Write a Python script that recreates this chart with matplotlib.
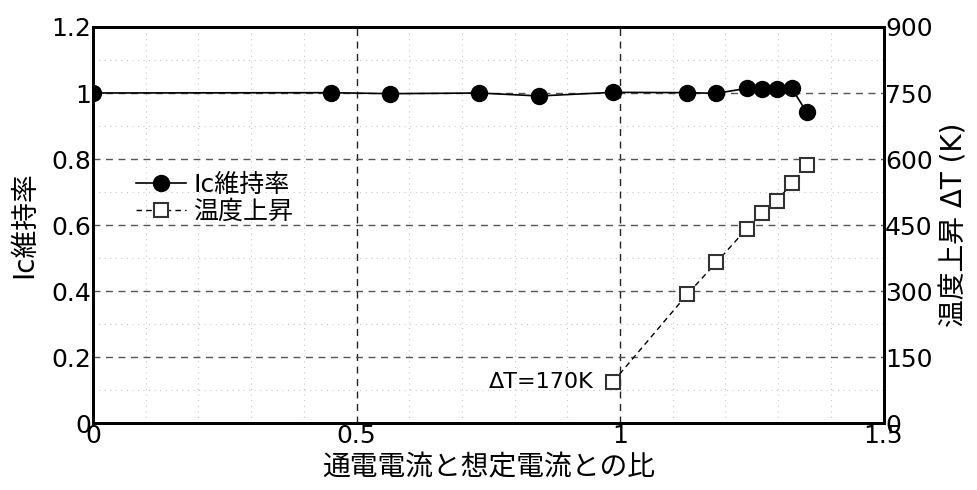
import matplotlib.pyplot as plt
import numpy as np
from matplotlib.ticker import MultipleLocator

plt.rcParams['font.family'] = ['DejaVu Sans', 'Noto Sans CJK JP']

# 通電電流と想定電流との比
ratio_ic = [0.0, 0.451, 0.564, 0.733, 0.846, 0.987, 1.128, 1.183, 1.240, 1.269, 1.298, 1.326, 1.354]
ic_keep = [1.0, 1.001, 0.998, 1.0, 0.991, 1.002, 1.001, 0.999, 1.014, 1.013, 1.013, 1.014, 0.942]

ratio_dt = [0.987, 1.128, 1.183, 1.240, 1.269, 1.298, 1.326, 1.354]
delta_t = [94, 293, 365, 441, 478, 505, 545, 586]

fig = plt.figure(figsize=(9.78, 4.9), dpi=100)
ax = fig.add_axes([0.0951, 0.1367, 0.8083, 0.8082])
ax2 = ax.twinx()

ax.set_xlim(0, 1.5)
ax.set_ylim(0, 1.2)
ax2.set_ylim(0, 900)

ax.xaxis.set_major_locator(MultipleLocator(0.5))
ax.xaxis.set_minor_locator(MultipleLocator(0.1))
ax.yaxis.set_major_locator(MultipleLocator(0.2))
ax.yaxis.set_minor_locator(MultipleLocator(0.1))
ax2.yaxis.set_major_locator(MultipleLocator(150))

ax.set_axisbelow(True)
ax.grid(which='minor', color='#c8c8c8', linestyle=(0, (1, 4)), linewidth=0.8)
ax.grid(which='major', axis='x', color='#222222', linestyle=(0, (5, 4)), linewidth=1.0)
ax.grid(which='major', axis='y', color='#555555', linestyle=(0, (5, 4)), linewidth=1.0)

ax.set_xticks([0, 0.5, 1, 1.5])
ax.set_xticklabels(['0', '0.5', '1', '1.5'])
ax.set_yticks([0, 0.2, 0.4, 0.6, 0.8, 1.0, 1.2])
ax.set_yticklabels(['0', '0.2', '0.4', '0.6', '0.8', '1', '1.2'])

for a in (ax, ax2):
    a.tick_params(which='both', length=0, labelsize=18, pad=1)
    for s in a.spines.values():
        s.set_linewidth(2)

l2, = ax2.plot(ratio_dt, delta_t, color='black', linestyle=(0, (4, 3)), linewidth=1.0,
               marker='s', markersize=10.5, markerfacecolor='white', markeredgecolor='#333333',
               markeredgewidth=1.5, label='温度上昇', zorder=3)
l1, = ax2.plot(ratio_ic, np.array(ic_keep) * 750, color='black', linewidth=1.2,
               marker='o', markersize=11.5, markerfacecolor='black', label='Ic維持率', zorder=4)

ax2.text(0.949, delta_t[0], 'ΔT=170K', fontsize=16, ha='right', va='center')

ax.set_xlabel('通電電流と想定電流との比', fontsize=20, labelpad=4)
ax.set_ylabel('Ic維持率', fontsize=20, labelpad=10)
ax2.set_ylabel('温度上昇 ΔT (K)', fontsize=20, labelpad=6)

ax2.legend(handles=[l1, l2], loc='upper left', bbox_to_anchor=(0.054, 0.632), frameon=False,
           fontsize=18, handlelength=2.0, handletextpad=0.3, labelspacing=0.12,
           borderpad=0, borderaxespad=0)

fig.savefig('out.png', dpi=100)
